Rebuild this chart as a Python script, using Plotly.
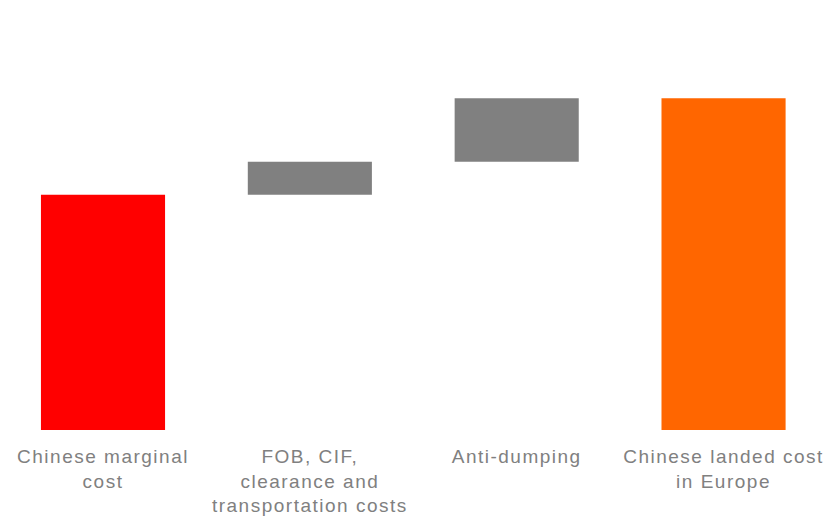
import plotly.graph_objects as go

categories = ["Chinese marginal<br>cost",
              "FOB, CIF,<br>clearance and<br>transportation costs",
              "Anti-dumping",
              "Chinese landed cost<br>in Europe"]
values = [100, 14, 27, 141]
measures = ["absolute", "relative", "relative", "total"]
colors = ["#FF0000", "#808080", "#808080", "#FF6600"]

bases = []
heights = []
running = 0
for v, m in zip(values, measures):
    if m == "absolute":
        bases.append(0); heights.append(v); running = v
    elif m == "relative":
        bases.append(running); heights.append(v); running += v
    else:
        bases.append(0); heights.append(v)

fig = go.Figure(go.Bar(
    x=categories, y=heights, base=bases,
    marker=dict(color=colors, line=dict(width=0)),
    hoverinfo="skip",
))

# page body has an 8px default margin, so the figure is sized to fit the window
fig.update_layout(
    width=826, height=511,
    margin=dict(l=0, r=0, t=22, b=89),
    paper_bgcolor="white", plot_bgcolor="white",
    bargap=0.4,
    showlegend=False,
    font=dict(family="Liberation Sans, Arial, sans-serif", size=19, color="#808080"),
)
fig.update_xaxes(showline=False, showgrid=False, zeroline=False, ticks="",
                 range=[-0.4593, 3.534],
                 ticklabelstandoff=13, tickfont=dict(size=19, color="#808080"))
fig.update_yaxes(visible=False, range=[0, 170], showgrid=False, zeroline=False)

post = """
document.querySelectorAll('.xtick text').forEach(function(t){
  t.style.letterSpacing = '1.5px';
});
"""
fig.write_html("out.html", post_script=post)
